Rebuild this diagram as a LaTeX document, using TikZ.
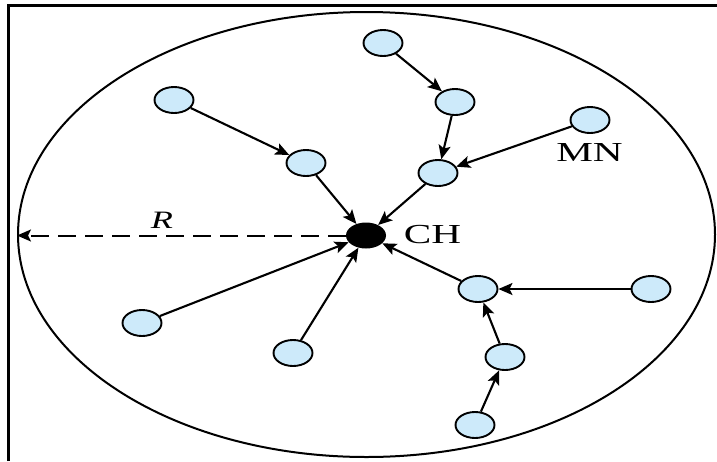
\documentclass[tikz,border=0pt]{standalone}
\usepackage{fontspec}
\setmainfont{Liberation Serif}
\usetikzlibrary{shapes.geometric,arrows.meta}
\definecolor{nodeblue}{RGB}{205,234,250}
\tikzset{
  mn/.style={draw=black, fill=nodeblue, ellipse, line width=1.9pt, minimum width=39pt, minimum height=26pt, inner sep=0pt},
  chnode/.style={fill=black, ellipse, minimum width=40pt, minimum height=26pt, inner sep=0pt},
  link/.style={line width=2.1pt, -{Stealth[length=14pt,width=12pt,inset=3pt]}},
  lbl/.style={inner sep=0pt, font=\fontsize{27.5}{30}\selectfont},
  frameline/.style={line width=3pt}
}
\begin{document}
\begin{tikzpicture}[x=1pt,y=-1pt]
\useasboundingbox (0,0) rectangle (717,461);
% frame (left and top edges visible)
\draw[frameline] (8.7,461) -- (8.7,5.2) -- (717,5.2);
% communication range
\node[draw, ellipse, line width=2pt, minimum width=697pt, minimum height=445pt, inner sep=0pt] (area) at (366.5,234.5) {};
% nodes
\node[mn] (n1) at (383,43) {};
\node[mn] (n2) at (455,102) {};
\node[mn] (n3) at (590,120) {};
\node[mn] (n4) at (174,100) {};
\node[mn] (n5) at (306,163) {};
\node[mn] (n6) at (438,173) {};
\node[chnode] (ch) at (366,235.5) {};
\node[mn] (n7) at (142,323) {};
\node[mn] (n8) at (293,353) {};
\node[mn] (n9) at (478,289) {};
\node[mn] (n10) at (651,289) {};
\node[mn] (n11) at (505,357) {};
\node[mn] (n12) at (475,425) {};
% labels
\node[lbl] (lmn) at (589.5,152.5) {\scalebox{1.5}[1]{MN}};
\node[lbl] (lch) at (432.5,234.5) {\scalebox{1.5}[1]{CH}};
\node[lbl, font=\fontsize{25}{28}\selectfont\itshape] (lr) at (162,220) {\scalebox{1.45}[1]{R}};
% radius
\draw[line width=2pt, dash pattern=on 18pt off 9pt, -{Stealth[length=14pt,width=12pt,inset=3pt]}] (ch.west) -- (ch.west -| area.west);
% links
\draw[link] (n1) -- (n2);
\draw[link] (n2) -- (n6);
\draw[link] (n3) -- (n6);
\draw[link] (n4) -- (n5);
\draw[link] (n5) -- (ch);
\draw[link] (n6) -- (ch);
\draw[link] (n7) -- (ch);
\draw[link] (n8) -- (ch);
\draw[link] (n9) -- (ch);
\draw[link] (n10) -- (n9);
\draw[link] (n11) -- (n9);
\draw[link] (n12) -- (n11);
\end{tikzpicture}
\end{document}
